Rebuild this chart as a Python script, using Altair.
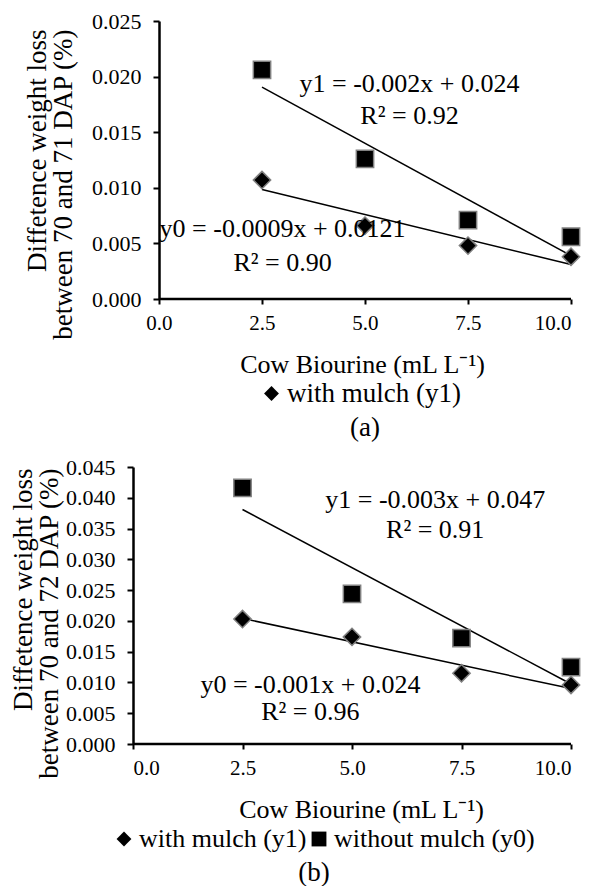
import altair as alt
import pandas as pd

# ---------------- data ----------------
dose = [2.5, 5.0, 7.5, 10.0]
series = ["with mulch (y1)", "without mulch (y0)"]

a_with = [0.0107, 0.0066, 0.0048, 0.0038]
a_without = [0.0206, 0.0126, 0.0071, 0.0056]
b_with = [0.0203, 0.0174, 0.0115, 0.0096]
b_without = [0.0416, 0.0244, 0.0172, 0.0125]

a_eq_text = ["y1 = -0.002x + 0.024", "R² = 0.92", "y0 = -0.0009x + 0.0121", "R² = 0.90"]
a_eq_x = [6.08, 6.08, 3.0, 3.0]
a_eq_y = [0.0193, 0.0165, 0.0063, 0.0032]

b_eq_text = ["y1 = -0.003x + 0.047", "R² = 0.91", "y0 = -0.001x + 0.024", "R² = 0.96"]
b_eq_x = [6.9, 6.9, 4.05, 4.05]
b_eq_y = [0.0396, 0.0348, 0.0096, 0.0052]

a_yticks = [0.0, 0.005, 0.010, 0.015, 0.020, 0.025]
b_yticks = [0.0, 0.005, 0.010, 0.015, 0.020, 0.025, 0.030, 0.035, 0.040, 0.045]
x_ticks = [0.0, 2.5, 5.0, 7.5, 10.0]

x_title = "Cow Biourine (mL L⁻¹)"
a_ytitle = ["Diffetence weight loss", "between 70 and 71 DAP (%)"]
b_ytitle = ["Diffetence weight loss", "between 70 and 72 DAP (%)"]

FONT = "Liberation Serif"
GREY = "#808080"


def long_df(w, wo):
    rows = []
    for d, v in zip(dose, w):
        rows.append({"dose": d, "value": v, "series": series[0]})
    for d, v in zip(dose, wo):
        rows.append({"dose": d, "value": v, "series": series[1]})
    return pd.DataFrame(rows)


def panel(w, wo, ymax, yticks, ytitle, eq_x, eq_y, eq_t, width, height,
          x_min, y_offset, title_x, title_y, xtitle_x,
          legend_values, legend_x, legend_y, legend_fs, legend_colpad,
          caption, caption_dx, caption_offset):
    df = long_df(w, wo)
    X = alt.X("dose:Q", scale=alt.Scale(domain=[x_min, 10], nice=False, zero=False),
              axis=alt.Axis(values=x_ticks, format=".1f", title=x_title,
                            titleFontSize=26, titlePadding=18, titleX=xtitle_x,
                            ticks=True, tickColor="black", tickWidth=2,
                            labelPadding=8, tickSize=5, labelFontSize=21,
                            domain=False))
    Y = alt.Y("value:Q", scale=alt.Scale(domain=[0, ymax], nice=False),
              axis=alt.Axis(values=yticks, format=".3f", title=ytitle,
                            titleFontSize=27, titleLineHeight=26,
                            titleAlign="right",
                            titleX=title_x, titleY=title_y, offset=y_offset,
                            ticks=True, tickColor="black", tickWidth=2,
                            labelPadding=12, tickSize=6, labelFontSize=22))
    lkw = dict(
        title=None, orient="none", direction="horizontal",
        legendX=legend_x, legendY=legend_y,
        labelFont=FONT, labelFontSize=legend_fs, labelColor="black",
        labelLimit=500, gridAlign="none",
        symbolSize=220, symbolFillColor="black", symbolStrokeColor=GREY,
        symbolStrokeWidth=1.5, symbolOpacity=1, columnPadding=legend_colpad,
        labelOffset=2,
    )
    if legend_values is not None:
        lkw["values"] = legend_values
    legend = alt.Legend(**lkw)

    pts = alt.Chart(df).mark_point(
        filled=True, fill="black", stroke=GREY, strokeWidth=1.5,
        opacity=1, size=300,
    ).encode(
        x=X, y=Y,
        shape=alt.Shape("series:N",
                        scale=alt.Scale(domain=series, range=["diamond", "square"]),
                        legend=legend),
    )
    fit = alt.Chart(df).transform_regression(
        "dose", "value", groupby=["series"]
    ).mark_line(color="black", strokeWidth=1.5).encode(
        x=X, y=Y, detail="series:N"
    )
    eq_df = pd.DataFrame({"dose": eq_x, "value": eq_y, "t": eq_t})
    txt = alt.Chart(eq_df).mark_text(
        font=FONT, fontSize=26, color="black", align="center", baseline="middle"
    ).encode(x=X, y=Y, text="t:N")
    # x-axis baseline drawn from 0 to 10 along value 0
    base = alt.Chart(pd.DataFrame({"dose": [x_ticks[0]], "dose2": [x_ticks[-1]],
                                   "value": [0.0]})).mark_rule(
        color="black", strokeWidth=2.5
    ).encode(x=X, x2="dose2:Q", y=Y)
    return alt.layer(base, fit, pts, txt).properties(
        width=width, height=height,
        title=alt.TitleParams(caption, orient="bottom", anchor="middle",
                              frame="group", dx=caption_dx, offset=caption_offset,
                              font=FONT, fontSize=27, fontWeight="normal",
                              color="black"),
    )


chart_a = panel(a_with, a_without, 0.025, a_yticks, a_ytitle,
                a_eq_x, a_eq_y, a_eq_text, 438, 278,
                -0.631, -26, -108, 8, 229,
                ["with mulch (y1)"], 125, 359, 27, 5,
                "(a)", 13, 8)
chart_b = panel(b_with, b_without, 0.045, b_yticks, b_ytitle,
                b_eq_x, b_eq_y, b_eq_text, 438, 277,
                0, 0, -96, 1, 228,
                None, -22, 359, 26, -1,
                "(b)", -38, 8)

chart = alt.vconcat(chart_a, chart_b, spacing=15).resolve_scale(
    shape="independent"
).resolve_legend(shape="independent").properties(
    padding={"left": 0, "right": 0, "top": 2, "bottom": 0}
).configure(
    font=FONT,
).configure_view(stroke=None).configure_axis(
    grid=False, domainColor="black", domainWidth=2.5, tickColor="black",
    tickWidth=2, labelFont=FONT, labelColor="black",
    titleFont=FONT, titleColor="black", titleFontWeight="normal",
)

chart.save("out.html", embed_options={"renderer": "svg", "actions": False})
